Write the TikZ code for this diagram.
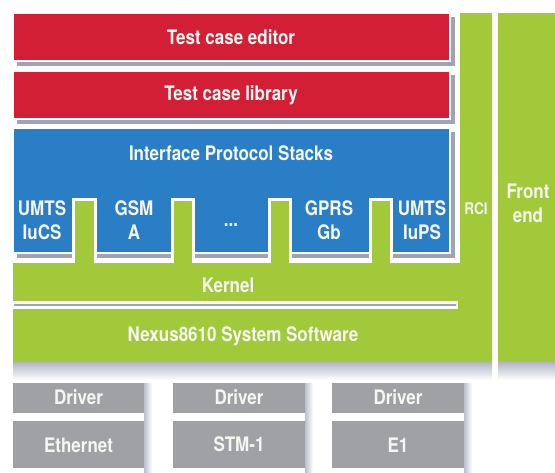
\documentclass[tikz,border=0pt]{standalone}
\usepackage{fontspec}
\setmainfont[FakeStretch=0.85]{TeX Gyre Heros}
\definecolor{kred}{HTML}{D21F36}
\definecolor{kblue}{HTML}{2A7EC6}
\definecolor{kgreen}{HTML}{A2C93A}
\definecolor{kgray}{HTML}{A0A1A4}
\definecolor{kshadow}{HTML}{9EA3B8}
\definecolor{ktext}{HTML}{F6F6F2}
\begin{document}
\begin{tikzpicture}[x=0.75pt,y=-0.75pt,
  lbl/.style={text=ktext,font=\bfseries\fontsize{15}{18}\selectfont,align=center,inner sep=0pt},
  smalllbl/.style={text=ktext,font=\bfseries\fontsize{12}{14}\selectfont,align=center,inner sep=0pt},
  boxshadow/.style={fill=kshadow},
  slotbox/.style={fill=kgreen,draw=white,line width=3pt*0.75},
  drvbox/.style={fill=kgray}]
\useasboundingbox (0,0) rectangle (555,472);
\fill[white] (0,0) rectangle (555,472);
% soft shadows
\shade[top color=kshadow!80, bottom color=white] (13,362) rectangle (492,380);
\shade[top color=kshadow!80, bottom color=white] (498,362) rectangle (555,380);
\foreach \r in {144,305,464}{
  \shade[left color=kshadow!70, right color=white] (\r,383) rectangle (\r+8,472);
}
% green base
\fill[kgreen] (13,263) -- (460,263) -- (460,13) -- (492,13) -- (492,362) -- (13,362) -- cycle;
\fill[kgreen] (498,13) rectangle (556,362);
% red boxes
\fill[boxshadow] (17,17) rectangle (455,66);
\filldraw[fill=kred,draw=white,line width=1.8pt] (13,13) rectangle (450,61);
\fill[boxshadow] (17,75) rectangle (455,124);
\filldraw[fill=kred,draw=white,line width=1.8pt] (13,71) rectangle (450,119);
% blue box
\fill[boxshadow] (17,132) rectangle (455,258);
\filldraw[fill=kblue,draw=white,line width=1.8pt] (13,128) rectangle (450,253);
% slots
\foreach \a/\b in {73.5/95.5,172.5/193.5,269.5/290.5,370.5/391.5}{
  \filldraw[slotbox] (\a,263) -- (\a,199.5) -- (\b,199.5) -- (\b,263);
}
% kernel separator
\filldraw[fill=kshadow,draw=white,line width=1.6pt] (13,302.5) rectangle (457,307.5);
% driver boxes
\fill[drvbox] (13,383) rectangle (144,413);
\fill[drvbox] (13,421) rectangle (144,468);
\fill[drvbox] (173,383) rectangle (305,413);
\fill[drvbox] (173,421) rectangle (305,468);
\fill[drvbox] (332,383) rectangle (464,413);
\fill[drvbox] (332,421) rectangle (464,468);
% labels
\node[lbl] (editor) at (231,37) {Test case editor};
\node[lbl] (library) at (231,95) {Test case library};
\node[lbl] (ips) at (231,153) {Interface Protocol Stacks};
\node[lbl] (iucs) at (42,220) {UMTS\\IuCS};
\node[lbl] (gsm) at (134,220) {GSM\\A};
\node[lbl,anchor=base] (dots) at (231,226) {...};
\node[lbl] (gprs) at (329,220) {GPRS\\Gb};
\node[lbl] (iups) at (422,220) {UMTS\\IuPS};
\node[smalllbl] (rci) at (476,209) {RCI};
\node[lbl] (front) at (528,203) {Front\\end};
\node[lbl] (kernel) at (228,285) {Kernel};
\node[lbl] (nexus) at (243,336) {Nexus8610 System Software};
\node[lbl] (d1) at (78.5,397) {Driver};
\node[lbl] (d2) at (239,397) {Driver};
\node[lbl] (d3) at (398,397) {Driver};
\node[lbl] (eth) at (78.5,445) {Ethernet};
\node[lbl] (stm) at (239,444) {STM-1};
\node[lbl] (e1) at (398,445) {E1};
\end{tikzpicture}
\end{document}
